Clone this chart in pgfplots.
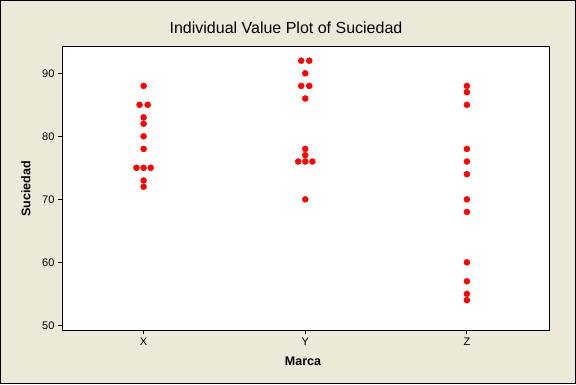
\documentclass[border=0pt]{standalone}
\usepackage{pgfplots}
\pgfplotsset{compat=1.18}
\usepackage{fontspec}
\setmainfont{Liberation Sans}
\definecolor{bgbeige}{RGB}{236,233,216}
\begin{document}
\begin{tikzpicture}[x=1pt,y=1pt]
\fill[bgbeige] (0,0) rectangle (576,384);
\draw[black,line width=1pt] (0.5,0.5) rectangle (575.5,383.5);
\begin{axis}[
  at={(62pt,54pt)}, anchor=south west,
  scale only axis, width=487pt, height=284pt,
  axis background/.style={fill=white},
  axis line style={black,line width=0.9pt},
  xmin=-0.505, xmax=2.508,
  ymin=49.27, ymax=94.33,
  xtick={0,1,2}, xticklabels={X,Y,Z},
  ytick={50,60,70,80,90},
  tick align=outside, tick pos=left,
  major tick length=4pt,
  tick style={black,line width=0.8pt},
  /pgf/number format/assume math mode=true,
  ticklabel style={font=\fontsize{11}{13}\selectfont},
  yticklabel style={xshift=0pt},
  xticklabel style={yshift=0pt},
  clip=false,
]
\addplot[only marks, mark=*, mark size=3pt, color=red, mark options={fill=red, draw=red}] coordinates {
  (0,88) (-0.025,85) (0.025,85) (0,83) (0,82) (0,80) (0,78)
  (-0.044,75) (0,75) (0.044,75) (0,73) (0,72)
  (0.975,92) (1.025,92) (1,90) (0.975,88) (1.025,88) (1,86)
  (1,78) (1,77) (0.956,76) (1,76) (1.044,76) (1,70)
  (2,88) (2,87) (2,85) (2,78) (2,76) (2,74) (2,70) (2,68)
  (2,60) (2,57) (2,55) (2,54)
};
\end{axis}
\node[font=\fontsize{16}{18}\selectfont] at (286,356) {Individual Value Plot of Suciedad};
\node[font=\bfseries\fontsize{12.5}{14}\selectfont] at (303,23) {Marca};
\node[font=\bfseries\fontsize{12.5}{14}\selectfont, rotate=90] at (26,195) {Suciedad};
\end{tikzpicture}
\end{document}
